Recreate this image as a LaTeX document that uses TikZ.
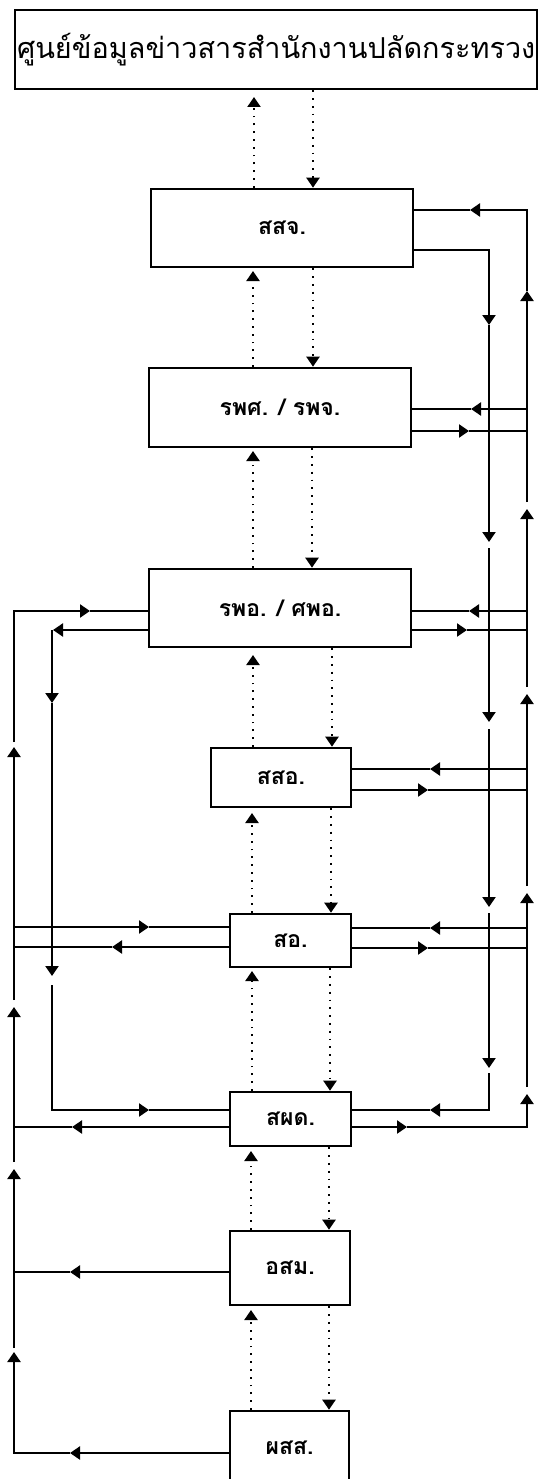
\documentclass[tikz,border=0pt]{standalone}
\usepackage{fontspec}
\newfontfamily\thai[Script=Thai]{Loma}
\usetikzlibrary{arrows.meta}
\tikzset{
  ln/.style={line width=2.2pt},
  arr/.style={-{Triangle[width=13pt,length=10pt]}},
  dotln/.style={line width=2.2pt, dash pattern=on 1.8pt off 6pt},
  boxn/.style={draw, line width=2.6pt, inner sep=0pt, font=\thai\bfseries\fontsize{23}{27}\selectfont},
}
\begin{document}
\begin{tikzpicture}[x=1pt,y=-1pt]
\useasboundingbox (0,0) rectangle (539,1479);
% boxes
\node[draw, line width=2.6pt, inner xsep=2pt, inner ysep=0pt, minimum width=522pt, minimum height=79pt, text width=518pt, align=left, font=\thai\fontsize{28.8}{33}\selectfont] (top) at (276,49.5) {ศูนย์ข้อมูลข่าวสารสำนักงานปลัดกระทรวง};
\node[boxn, minimum width=262pt, minimum height=78pt] (ssj) at (282,228) {สสจ.};
\node[boxn, minimum width=262pt, minimum height=79pt] (rps) at (280,407.5) {รพศ. / รพจ.};
\node[boxn, minimum width=262pt, minimum height=78pt] (rpo) at (280,608) {รพอ. / ศพอ.};
\node[boxn, minimum width=140pt, minimum height=59pt] (sso) at (281,777.5) {สสอ.};
\node[boxn, minimum width=121pt, minimum height=53pt] (so) at (290.5,940.5) {สอ.};
\node[boxn, minimum width=121pt, minimum height=54pt] (spd) at (290.5,1119) {สผด.};
\node[boxn, minimum width=120pt, minimum height=74pt] (osm) at (290,1268) {อสม.};
\node[boxn, minimum width=119pt, minimum height=74pt] (pss) at (289.5,1448) {ผสส.};

% dotted vertical links
\draw[dotln,arr] (ssj.north -| 254,0) -- (254,97);
\draw[dotln,arr] (top.south -| 313,0) -- (ssj.north -| 313,0);
\draw[dotln,arr] (rps.north -| 253,0) -- (253,271);
\draw[dotln,arr] (ssj.south -| 313,0) -- (rps.north -| 313,0);
\draw[dotln,arr] (rpo.north -| 253,0) -- (253,451);
\draw[dotln,arr] (rps.south -| 312,0) -- (rpo.north -| 312,0);
\draw[dotln,arr] (sso.north -| 253,0) -- (253,655);
\draw[dotln,arr] (rpo.south -| 332,0) -- (sso.north -| 332,0);
\draw[dotln,arr] (so.north -| 252,0) -- (252,813);
\draw[dotln,arr] (sso.south -| 331,0) -- (so.north -| 331,0);
\draw[dotln,arr] (spd.north -| 252,0) -- (252,971);
\draw[dotln,arr] (so.south -| 330,0) -- (spd.north -| 330,0);
\draw[dotln,arr] (osm.north -| 251,0) -- (251,1151);
\draw[dotln,arr] (spd.south -| 329,0) -- (osm.north -| 329,0);
\draw[dotln,arr] (pss.north -| 251,0) -- (251,1310);
\draw[dotln,arr] (osm.south -| 329,0) -- (pss.north -| 329,0);

% right down bus (x=489)
\draw[ln,arr] (ssj.east |- 0,250) -- (489,250) -- (489,325);
\draw[ln,arr] (489,325) -- (489,542);
\draw[ln,arr] (489,548) -- (489,722);
\draw[ln,arr] (489,729) -- (489,907);
\draw[ln,arr] (489,913) -- (489,1068);
\draw[ln,arr] (489,1073) -- (489,1110) -- (430,1110);
\draw[ln] (430,1110) -- (spd.east |- 0,1110);

% right up bus (x=527)
\draw[ln,arr] (spd.east |- 0,1127) -- (407,1127);
\draw[ln,arr] (407,1127) -- (527,1127) -- (527,1094);
\draw[ln,arr] (527,1087) -- (527,893);
\draw[ln,arr] (527,886) -- (527,694);
\draw[ln,arr] (527,687) -- (527,509);
\draw[ln,arr] (527,502) -- (527,291);
\draw[ln,arr] (527,291) -- (527,210) -- (470,210);
\draw[ln] (470,210) -- (ssj.east |- 0,210);

% right side horizontal pairs
\draw[ln,arr] (527,409) -- (471,409);  \draw[ln] (471,409) -- (rps.east |- 0,409);
\draw[ln,arr] (rps.east |- 0,431) -- (469,431); \draw[ln] (469,431) -- (527,431);
\draw[ln,arr] (527,611) -- (469,611);  \draw[ln] (469,611) -- (rpo.east |- 0,611);
\draw[ln,arr] (rpo.east |- 0,630) -- (467,630); \draw[ln] (467,630) -- (527,630);
\draw[ln,arr] (527,769) -- (430,769);  \draw[ln] (430,769) -- (sso.east |- 0,769);
\draw[ln,arr] (sso.east |- 0,790) -- (428,790); \draw[ln] (428,790) -- (527,790);
\draw[ln,arr] (527,928) -- (430,928);  \draw[ln] (430,928) -- (so.east |- 0,928);
\draw[ln,arr] (so.east |- 0,948) -- (428,948); \draw[ln] (428,948) -- (527,948);

% left up bus (x=14)
\draw[ln,arr] (pss.west |- 0,1453) -- (70,1453);
\draw[ln,arr] (70,1453) -- (14,1453) -- (14,1352);
\draw[ln,arr] (14,1348) -- (14,1169);
\draw[ln,arr] (14,1162) -- (14,1007);
\draw[ln,arr] (14,1000) -- (14,747);
\draw[ln,arr] (14,742) -- (14,611) -- (90,611);
\draw[ln] (90,611) -- (rpo.west |- 0,611);
\draw[ln,arr] (osm.west |- 0,1272) -- (70,1272); \draw[ln] (70,1272) -- (14,1272);
\draw[ln,arr] (spd.west |- 0,1127) -- (72,1127); \draw[ln] (72,1127) -- (14,1127);
\draw[ln,arr] (so.west |- 0,947) -- (112,947);   \draw[ln] (112,947) -- (14,947);
\draw[ln,arr] (14,927) -- (149,927);             \draw[ln] (149,927) -- (so.west |- 0,927);

% left down bus (x=52)
\draw[ln,arr] (rpo.west |- 0,630) -- (53,630);
\draw[ln,arr] (52,630) -- (52,703);
\draw[ln,arr] (52,703) -- (52,976);
\draw[ln,arr] (52,985) -- (52,1110) -- (149,1110);
\draw[ln] (149,1110) -- (spd.west |- 0,1110);
\end{tikzpicture}
\end{document}
